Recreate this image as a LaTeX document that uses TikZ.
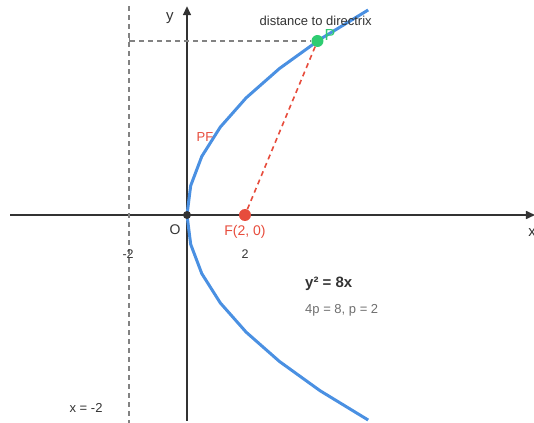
\documentclass[tikz,border=0pt]{standalone}
\usepackage{fontspec}
\setmainfont{Liberation Sans}
\usepackage{tikz}
\usetikzlibrary{arrows.meta,positioning}
\definecolor{CurveBlue}{RGB}{74,144,226}
\definecolor{FocusRed}{RGB}{231,76,60}
\definecolor{PointGreen}{RGB}{46,204,113}
\definecolor{AxisGray}{RGB}{51,51,51}
\definecolor{GuideGray}{RGB}{130,130,130}
\definecolor{NoteGray}{RGB}{110,110,110}

\begin{document}
\begin{tikzpicture}[
x=29pt, y=29pt,
axis/.style={
draw=AxisGray,
line width=1.6pt,
-{Triangle[length=9pt,width=8pt]}
},
guide/.style={
draw=GuideGray,
line width=1.5pt,
dash pattern=on 5pt off 4pt
},
dot/.style={
circle,
inner sep=0pt,
minimum size=#1
},
lbl/.style={
font=\fontsize{13}{15}\selectfont,
inner sep=0pt
}
]
\useasboundingbox (-6.448,-7.172) rectangle (11.966,7.414);

% axes and directrix
\coordinate (xs) at (-6.1,0);
\coordinate (xe) at (12.0,0);
\coordinate (ys) at (0,-7.1);
\coordinate (ye) at (0,7.2);
\coordinate (dtop) at (-2,7.2);
\coordinate (dbot) at (-2,-7.2);
\coordinate (H) at (-2,6);
\draw[axis] (xs) -- (xe);
\draw[axis] (ys) -- (ye);
\draw[guide] (dtop) -- (dbot);

% parabola y^2 = 8x
\draw[CurveBlue, line width=3pt, line join=round]
  plot[domain=-7.07:7.07, samples=15] ({\x*\x/8},\x);

% points
\node[dot=8pt, fill=AxisGray] (O) at (0,0) {};
\node[dot=12pt, fill=FocusRed] (F) at (2,0) {};
\node[dot=12pt, fill=PointGreen] (P) at (4.5,6) {};

\draw[guide, {Bar[width=6pt]}-] (H) -- (P);
\draw[FocusRed, line width=1.6pt, dash pattern=on 5pt off 4pt] (P) -- (F);

% labels
\node[lbl, text=AxisGray, font=\fontsize{15}{17}\selectfont] at (-0.59,6.8) {y};
\node[lbl, text=AxisGray, font=\fontsize{15}{17}\selectfont] at (11.9,-0.59) {x};
\node[lbl, text=AxisGray, anchor=west] at (2.5,6.69) {distance to directrix};
\node[lbl, text=PointGreen, font=\fontsize{16}{18}\selectfont, anchor=south west] (Plbl) at (4.74,6.02) {P};
\node[lbl, text=FocusRed] at (0.62,2.69) {PF};
\node[lbl, text=AxisGray, font=\fontsize{14}{16}\selectfont] at (-0.41,-0.52) {O};
\node[lbl, text=FocusRed, font=\fontsize{14}{16}\selectfont] at (2,-0.59) {F(2, 0)};
\node[lbl, text=AxisGray, font=\fontsize{12.5}{14}\selectfont] at (-2.03,-1.34) {-2};
\node[lbl, text=AxisGray, font=\fontsize{12.5}{14}\selectfont] at (2,-1.34) {2};
\node[lbl, text=AxisGray, anchor=west, font=\fontsize{15}{17}\selectfont\bfseries] at (4.07,-2.38) {y² = 8x};
\node[lbl, text=NoteGray, anchor=west] at (4.07,-3.28) {4p = 8, p = 2};
\node[lbl, text=AxisGray] at (-3.48,-6.66) {x = -2};
\end{tikzpicture}
\end{document}
